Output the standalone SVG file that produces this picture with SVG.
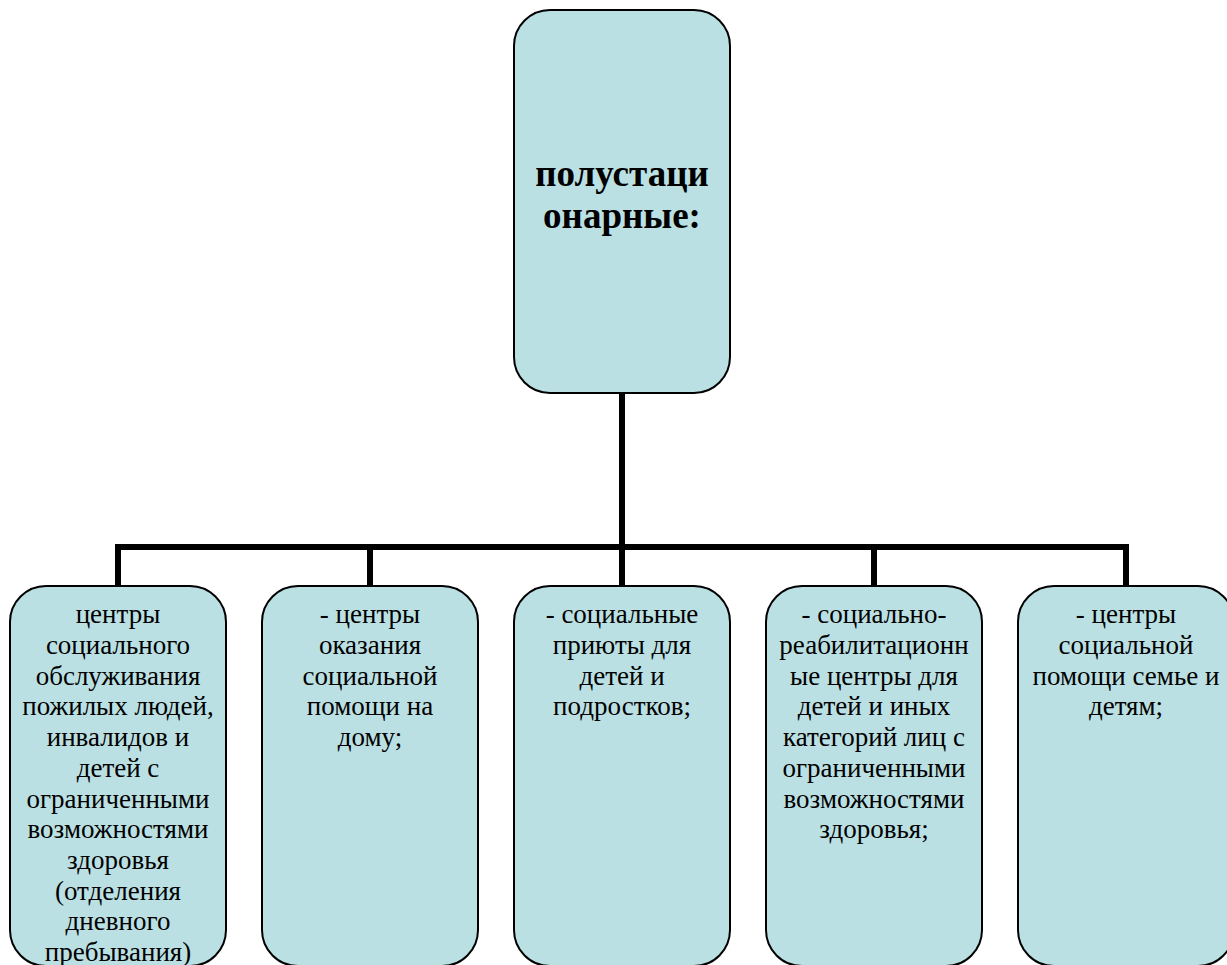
<svg xmlns="http://www.w3.org/2000/svg" width="1227" height="965" viewBox="0 0 1227 965">
<defs>
<style>
.box{fill:#BBE0E3;stroke:#000;stroke-width:2}
.c{fill:none;stroke:#000;stroke-width:6}
</style>
</defs>
<rect width="1227" height="965" fill="#fff"/>
<g id="connectors">
<path class="c" d="M622 393V547M118 547H1127M118 544V587M370 544V587M622 544V587M874 544V587M1126 544V587"/>
</g>
<g id="root">
<rect class="box" x="514" y="10" width="216" height="383" rx="36"/>
<text font-family="Liberation Serif" font-size="37" font-weight="bold" text-anchor="middle" x="622" y="186">полустаци</text>
<text font-family="Liberation Serif" font-size="37" font-weight="bold" text-anchor="middle" x="622" y="228">онарные:</text>
</g>
<g id="n1">
<rect class="box" x="10" y="586" width="216" height="380" rx="36"/>
<text font-family="Liberation Serif" font-size="27" text-anchor="middle" x="118" y="623.3">центры</text>
<text font-family="Liberation Serif" font-size="27" text-anchor="middle" x="118" y="654">социального</text>
<text font-family="Liberation Serif" font-size="27" text-anchor="middle" x="118" y="684.7">обслуживания</text>
<text font-family="Liberation Serif" font-size="27" text-anchor="middle" x="118" y="715.4">пожилых людей,</text>
<text font-family="Liberation Serif" font-size="27" text-anchor="middle" x="118" y="746.1">инвалидов и</text>
<text font-family="Liberation Serif" font-size="27" text-anchor="middle" x="118" y="776.8">детей с</text>
<text font-family="Liberation Serif" font-size="27" text-anchor="middle" x="118" y="807.5">ограниченными</text>
<text font-family="Liberation Serif" font-size="27" text-anchor="middle" x="118" y="838.2">возможностями</text>
<text font-family="Liberation Serif" font-size="27" text-anchor="middle" x="118" y="868.9">здоровья</text>
<text font-family="Liberation Serif" font-size="27" text-anchor="middle" x="118" y="899.6">(отделения</text>
<text font-family="Liberation Serif" font-size="27" text-anchor="middle" x="118" y="930.3">дневного</text>
<text font-family="Liberation Serif" font-size="27" text-anchor="middle" x="118" y="961">пребывания)</text>
</g>
<g id="n2">
<rect class="box" x="262" y="586" width="216" height="380" rx="36"/>
<text font-family="Liberation Serif" font-size="27" text-anchor="middle" x="370" y="623.3">- центры</text>
<text font-family="Liberation Serif" font-size="27" text-anchor="middle" x="370" y="654">оказания</text>
<text font-family="Liberation Serif" font-size="27" text-anchor="middle" x="370" y="684.7">социальной</text>
<text font-family="Liberation Serif" font-size="27" text-anchor="middle" x="370" y="715.4">помощи на</text>
<text font-family="Liberation Serif" font-size="27" text-anchor="middle" x="370" y="746.1">дому;</text>
</g>
<g id="n3">
<rect class="box" x="514" y="586" width="216" height="380" rx="36"/>
<text font-family="Liberation Serif" font-size="27" text-anchor="middle" x="622" y="623.3">- социальные</text>
<text font-family="Liberation Serif" font-size="27" text-anchor="middle" x="622" y="654">приюты для</text>
<text font-family="Liberation Serif" font-size="27" text-anchor="middle" x="622" y="684.7">детей и</text>
<text font-family="Liberation Serif" font-size="27" text-anchor="middle" x="622" y="715.4">подростков;</text>
</g>
<g id="n4">
<rect class="box" x="766" y="586" width="216" height="380" rx="36"/>
<text font-family="Liberation Serif" font-size="27" text-anchor="middle" x="874" y="623.3">- социально-</text>
<text font-family="Liberation Serif" font-size="27" text-anchor="middle" x="874" y="654">реабилитационн</text>
<text font-family="Liberation Serif" font-size="27" text-anchor="middle" x="874" y="684.7">ые центры для</text>
<text font-family="Liberation Serif" font-size="27" text-anchor="middle" x="874" y="715.4">детей и иных</text>
<text font-family="Liberation Serif" font-size="27" text-anchor="middle" x="874" y="746.1">категорий лиц с</text>
<text font-family="Liberation Serif" font-size="27" text-anchor="middle" x="874" y="776.8">ограниченными</text>
<text font-family="Liberation Serif" font-size="27" text-anchor="middle" x="874" y="807.5">возможностями</text>
<text font-family="Liberation Serif" font-size="27" text-anchor="middle" x="874" y="838.2">здоровья;</text>
</g>
<g id="n5">
<rect class="box" x="1018" y="586" width="216" height="380" rx="36"/>
<text font-family="Liberation Serif" font-size="27" text-anchor="middle" x="1126" y="623.3">- центры</text>
<text font-family="Liberation Serif" font-size="27" text-anchor="middle" x="1126" y="654">социальной</text>
<text font-family="Liberation Serif" font-size="27" text-anchor="middle" x="1126" y="684.7">помощи семье и</text>
<text font-family="Liberation Serif" font-size="27" text-anchor="middle" x="1126" y="715.4">детям;</text>
</g>
</svg>
